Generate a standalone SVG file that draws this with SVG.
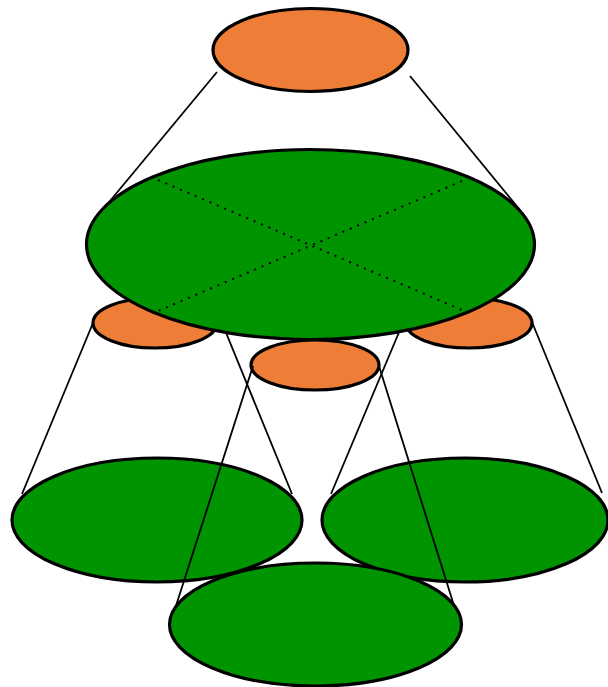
<svg xmlns="http://www.w3.org/2000/svg" width="608" height="687" viewBox="0 0 608 687">
<style>
.o{fill:#ED7D37;stroke:#000;stroke-width:3.2}
.g{fill:#009500;stroke:#000;stroke-width:3.2}
.c{stroke:#000;stroke-width:1.8;fill:none}
.d{stroke:#000;stroke-width:2;stroke-dasharray:2 6;fill:none}
</style>
<rect width="608" height="687" fill="#fff"/>
<g id="top"><ellipse class="o" cx="310.5" cy="50" rx="97.5" ry="41.5"/></g>
<g id="connectors-top"><line class="c" x1="217" y1="72" x2="100" y2="213"/><line class="c" x1="410" y1="76" x2="520" y2="210"/></g>
<g id="orange-left"><ellipse class="o" cx="155" cy="323" rx="62" ry="25"/></g>
<g id="orange-right"><ellipse class="o" cx="469" cy="323" rx="63" ry="25"/></g>
<g id="orange-mid"><ellipse class="o" cx="315" cy="365" rx="64" ry="25"/></g>
<g id="connectors-left"><line class="c" x1="93" y1="323" x2="22" y2="494"/><line class="c" x1="220" y1="318" x2="292" y2="494"/></g>
<g id="green-left"><ellipse class="g" cx="157" cy="520" rx="145" ry="62"/></g>
<g id="connectors-right"><line class="c" x1="405" y1="318" x2="331" y2="494"/><line class="c" x1="532" y1="322" x2="602" y2="493"/></g>
<g id="green-right"><ellipse class="g" cx="465" cy="520" rx="143" ry="62"/></g>
<g id="connectors-mid"><line class="c" x1="253" y1="366" x2="174" y2="612"/><line class="c" x1="379" y1="366" x2="456" y2="612"/></g>
<g id="green-bottom"><ellipse class="g" cx="315.5" cy="624.5" rx="146" ry="61.5"/></g>
<g id="green-big"><ellipse class="g" cx="310.5" cy="244.5" rx="224" ry="95"/>
<line class="d" x1="158" y1="180" x2="462" y2="310"/><line class="d" x1="462" y1="181" x2="158" y2="311"/></g>
</svg>
